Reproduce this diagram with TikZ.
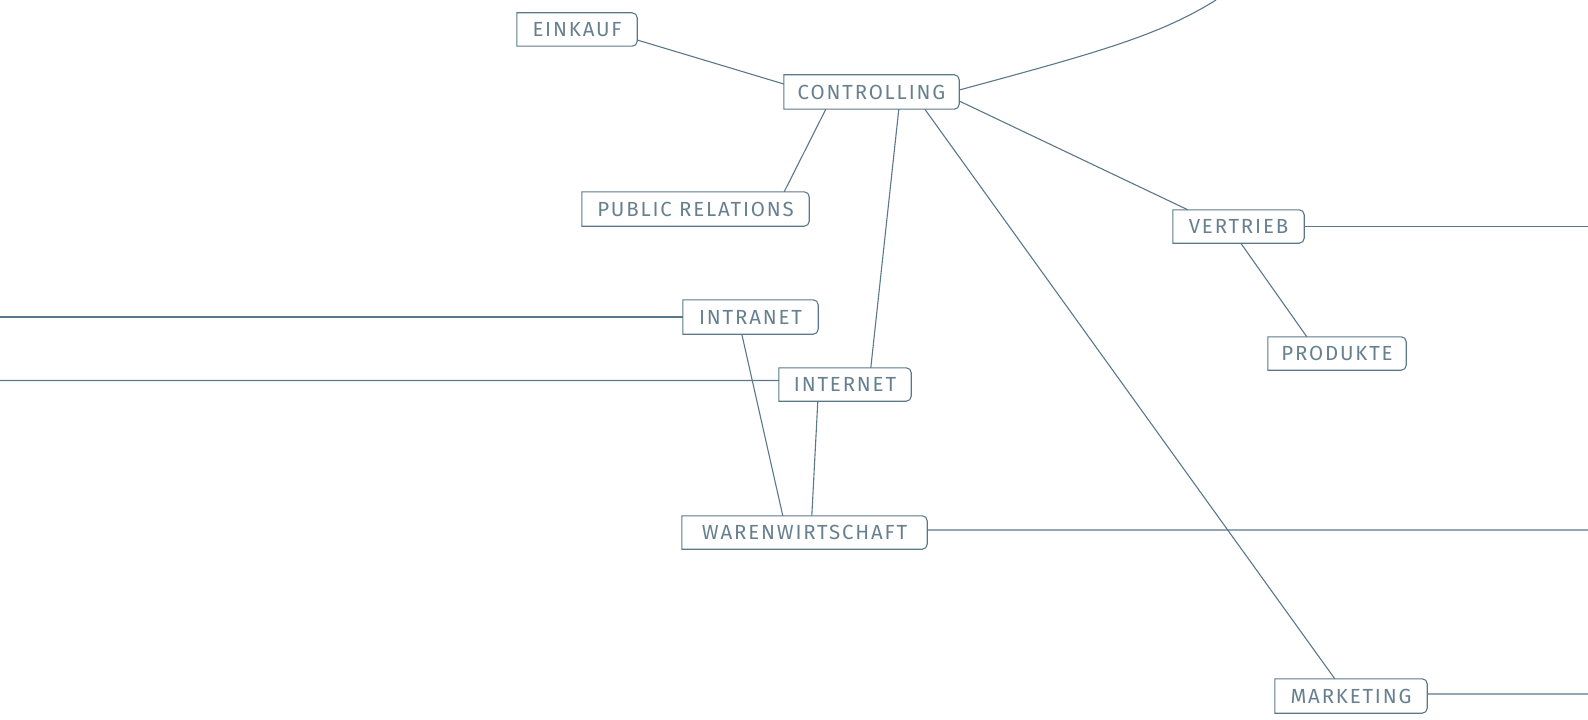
\documentclass[tikz,border=0pt]{standalone}
\usepackage{fontspec}
\setmainfont{Fira Sans}[LetterSpace=9]
\definecolor{linecol}{HTML}{5A7888}
\definecolor{textcol}{HTML}{67808F}
\tikzset{
  box/.style={inner sep=0pt,minimum height=33bp,text=textcol,
    font=\fontsize{20.5}{24}\selectfont},
  conn/.style={draw=linecol,line width=1.1bp}
}
% outline with square left corners and rounded right corners
\newcommand\boxline[1]{%
  \draw[conn] (#1.south west) -- (#1.north west)
    -- ([xshift=-5bp]#1.north east) arc[start angle=90,end angle=0,radius=5bp]
    -- ([yshift=5bp]#1.south east) arc[start angle=0,end angle=-90,radius=5bp]
    -- cycle;}
\begin{document}
\begin{tikzpicture}[x=1bp,y=-1bp]
  \useasboundingbox (0,0) rectangle (1588,720);
  % top
  \node[box,minimum width=120bp,at={(577,29.5)}] (eink) {EINKAUF};
  \node[box,minimum width=175bp,minimum height=34bp,at={(871.5,92)}] (ctrl) {CONTROLLING};
  \node[box,minimum width=227bp,minimum height=34bp,at={(695.5,209)}] (pr) {PUBLIC RELATIONS};
  \coordinate (topend) at (1216,0);
  % middle
  \node[box,minimum width=135bp,minimum height=34bp,at={(750.5,317)}] (intra) {INTRANET};
  \node[box,minimum width=132bp,at={(845,384.5)}] (inet) {INTERNET};
  \node[box,minimum width=245bp,at={(804.5,532.5)}] (ware) {WARENWIRTSCHAFT};
  \coordinate (intraend) at (0,317);
  \coordinate (inetend) at (0,380.5);
  \coordinate (wareend) at (1588,530);
  % right
  \node[box,minimum width=131bp,at={(1238.5,226.5)}] (vtr) {VERTRIEB};
  \node[box,minimum width=138bp,at={(1337,353.5)}] (prod) {PRODUKTE};
  \node[box,minimum width=152bp,minimum height=34bp,at={(1351,696)}] (mkt) {MARKETING};
  \coordinate (vtrend) at (1588,226.5);
  \coordinate (mktend) at (1588,694);
  %outlines
  \foreach \n in {eink,ctrl,pr,intra,inet,ware,vtr,prod,mkt}{\boxline{\n}}
  %edges
  \draw[conn] ([yshift=-10.5bp]eink.east) -- ([yshift=8bp]ctrl.west);
  \draw[conn] ([yshift=2bp]ctrl.east) .. controls (1100,52) and (1160,35) .. (topend);
  \draw[conn] ([xshift=42bp]ctrl.south west) -- ([xshift=-25bp]pr.north east);
  \draw[conn] ([xshift=115bp]ctrl.south west) -- ([xshift=92bp]inet.north west);
  \draw[conn] ([xshift=141bp]ctrl.south west) -- ([xshift=60bp]mkt.north west);
  \draw[conn] ([yshift=-9bp]ctrl.east) -- ([xshift=15bp]vtr.north west);
  \draw[conn] (vtr.east) -- (vtrend);
  \draw[conn] ([xshift=68bp]vtr.south west) -- ([xshift=39bp]prod.north west);
  \draw[conn] (intra.west) -- (intraend);
  \draw[conn] ([yshift=4bp]inet.west) -- (inetend);
  \draw[conn] ([xshift=59bp]intra.south west) -- ([xshift=101bp]ware.north west);
  \draw[conn] ([xshift=39bp]inet.south west) -- ([xshift=130bp]ware.north west);
  \draw[conn] ([yshift=2.5bp]ware.east) -- (wareend);
  \draw[conn] ([yshift=2bp]mkt.east) -- (mktend);
\end{tikzpicture}
\end{document}
